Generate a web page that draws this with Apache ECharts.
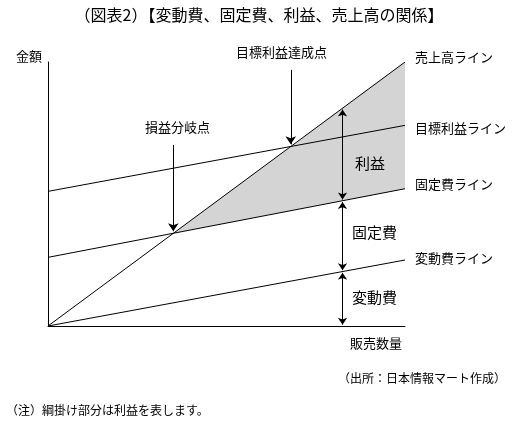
<!DOCTYPE html>
<html><head><meta charset="utf-8">
<script src="https://cdn.jsdelivr.net/npm/echarts@6/dist/echarts.min.js"></script>
<style>body{margin:0;background:#fff}#c{width:518px;height:437px}</style>
</head><body><div id="c"></div>
<script>
// 販売数量 0..100, 金額 0..100（相対値）
var xs = [0, 100];
var sales = [0, 100];        // 売上高ライン
var target = [51, 76];       // 目標利益ライン
var cost = [26, 52];         // 固定費ライン（総費用）
var variable = [0, 25];      // 変動費ライン
var bep = 35.1;              // 損益分岐点
var tgt = 68;                // 目標利益達成点
var arrowX = 82.5;

var F = '"Noto Sans CJK JP", sans-serif';
function at(a, x) { return a[0] + (a[1] - a[0]) * x / 100; }
function line(name, arr, lblDy) {
  return {
    type: 'line', name: name, data: xs.map(function (x, i) { return [x, arr[i]]; }),
    symbol: 'none', silent: true, lineStyle: { color: '#000', width: 1 },
    endLabel: { show: true, formatter: name, color: '#000', fontSize: 13, fontFamily: F, offset: [2, lblDy] }
  };
}
function txt(s, l, t, size) {
  return { type: 'text', left: l, top: t, z: 100, style: { text: s, fontSize: size, fontFamily: F, fill: '#000' } };
}
var chart = echarts.init(document.getElementById('c'));
chart.setOption({
  animation: false,
  grid: { left: 48, right: 113, top: 62, bottom: 111 },
  xAxis: { type: 'value', min: 0, max: 100, axisLine: { lineStyle: { color: '#000' } },
    axisTick: { show: false }, axisLabel: { show: false }, splitLine: { show: false } },
  yAxis: { type: 'value', min: 0, max: 100, axisLine: { show: true, lineStyle: { color: '#000' } },
    axisTick: { show: false }, axisLabel: { show: false }, splitLine: { show: false } },
  graphic: [
    { type: 'text', left: 'center', top: 7, z: 100, style: { text: '（図表2）【変動費、固定費、利益、売上高の関係】', fontSize: 16, fontFamily: F, fill: '#000' } },
    txt('金額', 16, 50, 13),
    txt('販売数量', 350, 337, 13),
    txt('（出所：日本情報マート作成）', 338, 372, 12),
    txt('（注）綱掛け部分は利益を表します。', 6, 404, 12),
    txt('目標利益達成点', 236, 46, 13),
    txt('損益分岐点', 145, 121, 13),
    txt('利益', 355, 156, 15),
    txt('固定費', 352, 225, 15),
    txt('変動費', 352, 290, 15)
  ],
  series: [
    {
      type: 'custom', silent: true, z: 1,
      data: [0],
      renderItem: function (params, api) {
        var pts = [[bep, bep], [100, sales[1]], [100, cost[1]]].map(function (p) { return api.coord(p); });
        return { type: 'polygon', shape: { points: pts }, style: { fill: '#d4d4d4' } };
      }
    },
    line('売上高ライン', sales, -5),
    line('目標利益ライン', target, 3),
    line('固定費ライン', cost, -5),
    line('変動費ライン', variable, -2),
    {
      type: 'lines', coordinateSystem: 'cartesian2d', silent: true, z: 5,
      symbol: ['none', 'arrow'], symbolSize: 8,
      lineStyle: { color: '#000', width: 1, opacity: 1 },
      data: [
        { coords: [[bep, 68.6], [bep, bep + 0.8]] },
        { coords: [[tgt, 97], [tgt, at(target, tgt) + 0.8]] }
      ]
    },
    {
      type: 'lines', coordinateSystem: 'cartesian2d', silent: true, z: 5,
      symbol: ['arrow', 'arrow'], symbolSize: 7,
      lineStyle: { color: '#000', width: 1, opacity: 1 },
      data: [
        { coords: [[arrowX, at(sales, arrowX) - 0.5], [arrowX, at(cost, arrowX) + 0.5]] },
        { coords: [[arrowX, at(cost, arrowX) - 0.5], [arrowX, at(variable, arrowX) + 0.5]] },
        { coords: [[arrowX, at(variable, arrowX) - 0.5], [arrowX, 0.5]] }
      ]
    }
  ]
});
</script></body></html>
